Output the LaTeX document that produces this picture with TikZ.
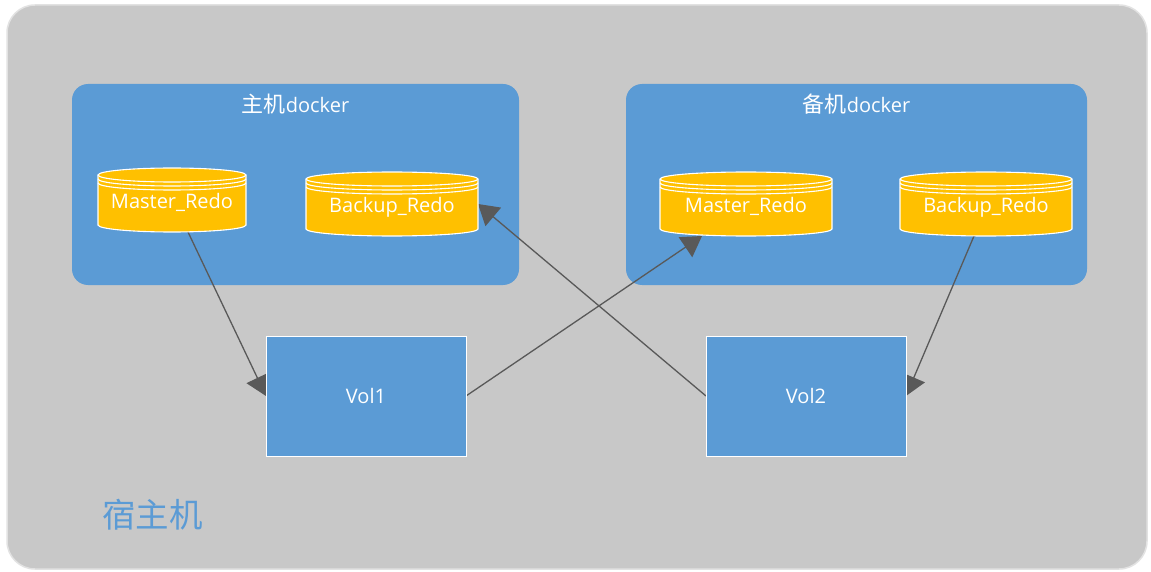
\documentclass[tikz,border=0pt]{standalone}
\usepackage{fontspec}
\setmainfont{Open Sans}
\newfontfamily\cjk{Noto Sans CJK SC}
\usetikzlibrary{arrows.meta,calc}
\definecolor{hostgrey}{HTML}{C8C8C8}
\definecolor{hostedge}{HTML}{E2E2E2}
\definecolor{panelblue}{HTML}{5B9BD5}
\definecolor{dbyellow}{HTML}{FFC000}
\definecolor{connecgrey}{HTML}{595959}
\pgfdeclarelayer{hostlayer}
\pgfdeclarelayer{connlayer}
\pgfsetlayers{hostlayer,connlayer,main}
\tikzset{
  x=1pt,y=-1pt,
  every node/.style={inner sep=0pt,outer sep=0pt,font=\fontsize{20}{24}\selectfont},
  hostbox/.style={fill=hostgrey,draw=hostedge,line width=1.5pt,rounded corners=28pt,minimum width=1140pt,minimum height=564pt},
  dockerbox/.style={fill=panelblue,rounded corners=16pt,minimum height=201pt},
  volbox/.style={fill=panelblue,draw=white,line width=1pt,minimum width=200pt,minimum height=120pt,text=white},
  dbtext/.style={text=white,minimum height=64pt},
  dbline/.style={draw=white,line width=1.1pt},
  paneltitle/.style={text=white},
  conn/.style={draw=connecgrey,line width=1.3pt,-{Triangle[length=20pt,width=24pt,fill=connecgrey]}},
}
% name, centre x, centre y, width, text
\newcommand{\dbdrum}[5]{%
  \begin{scope}[shift={(#2,#3)}]
    \pgfmathsetmacro{\hw}{#4/2}
    \fill[dbyellow] (-\hw,-25) arc[start angle=180,end angle=360,x radius=\hw,y radius=7] -- (\hw,25) arc[start angle=0,end angle=180,x radius=\hw,y radius=7] -- cycle;
    \draw[dbline] (-\hw,-25) arc[start angle=180,end angle=360,x radius=\hw,y radius=7] -- (\hw,25) arc[start angle=0,end angle=180,x radius=\hw,y radius=7] -- cycle;
    \draw[dbline] (-\hw,-25) arc[start angle=180,end angle=0,x radius=\hw,y radius=7];
    \draw[dbline] (-\hw,-21) arc[start angle=180,end angle=0,x radius=\hw,y radius=7];
    \draw[dbline] (-\hw,-17) arc[start angle=180,end angle=0,x radius=\hw,y radius=7];
  \end{scope}
  \node[dbtext,minimum width=#4pt,text depth=0pt] (#1) at (#2,#3) {\raisebox{-1pt}{#5}};
}
\begin{document}
\begin{tikzpicture}
\useasboundingbox (0,0) rectangle (1151,572);
\begin{pgfonlayer}{hostlayer}
  \fill[white] (0,0) rectangle (1151,572);
  \node[hostbox] (host) at (577,287) {};
  \node[dockerbox,minimum width=447pt] (dockerA) at (295.5,184.5) {};
  \node[dockerbox,minimum width=461pt] (dockerB) at (856.5,184.5) {};
\end{pgfonlayer}
\node[paneltitle] (titleA) at (295.5,104.5) {{\cjk\fontsize{22}{24}\selectfont 主机}docker};
\node[paneltitle] (titleB) at (856.5,104.5) {{\cjk\fontsize{22}{24}\selectfont 备机}docker};
\node[text=panelblue,font=\cjk\fontsize{33.5}{38}\selectfont] (hostlabel) at (152.5,515) {宿主机};
\dbdrum{mA}{172}{200}{148}{Master\_Redo}
\dbdrum{bA}{392}{204}{172}{Backup\_Redo}
\dbdrum{mB}{746}{204}{172}{Master\_Redo}
\dbdrum{bB}{986}{204}{172}{Backup\_Redo}
\node[volbox] (vA) at (366,396) {Vol1};
\node[volbox] (vB) at (806,396) {Vol2};
\begin{pgfonlayer}{connlayer}
  \draw[conn] ($(mA.south)+(16,0)$) -- (vA.west);
  \draw[conn] (vA.east) -- ($(mB.south)+(-44,0)$);
  \draw[conn] (vB.west) -- (bA.east);
  \draw[conn] ($(bB.south)+(-12,0)$) -- (vB.east);
\end{pgfonlayer}
\end{tikzpicture}
\end{document}
